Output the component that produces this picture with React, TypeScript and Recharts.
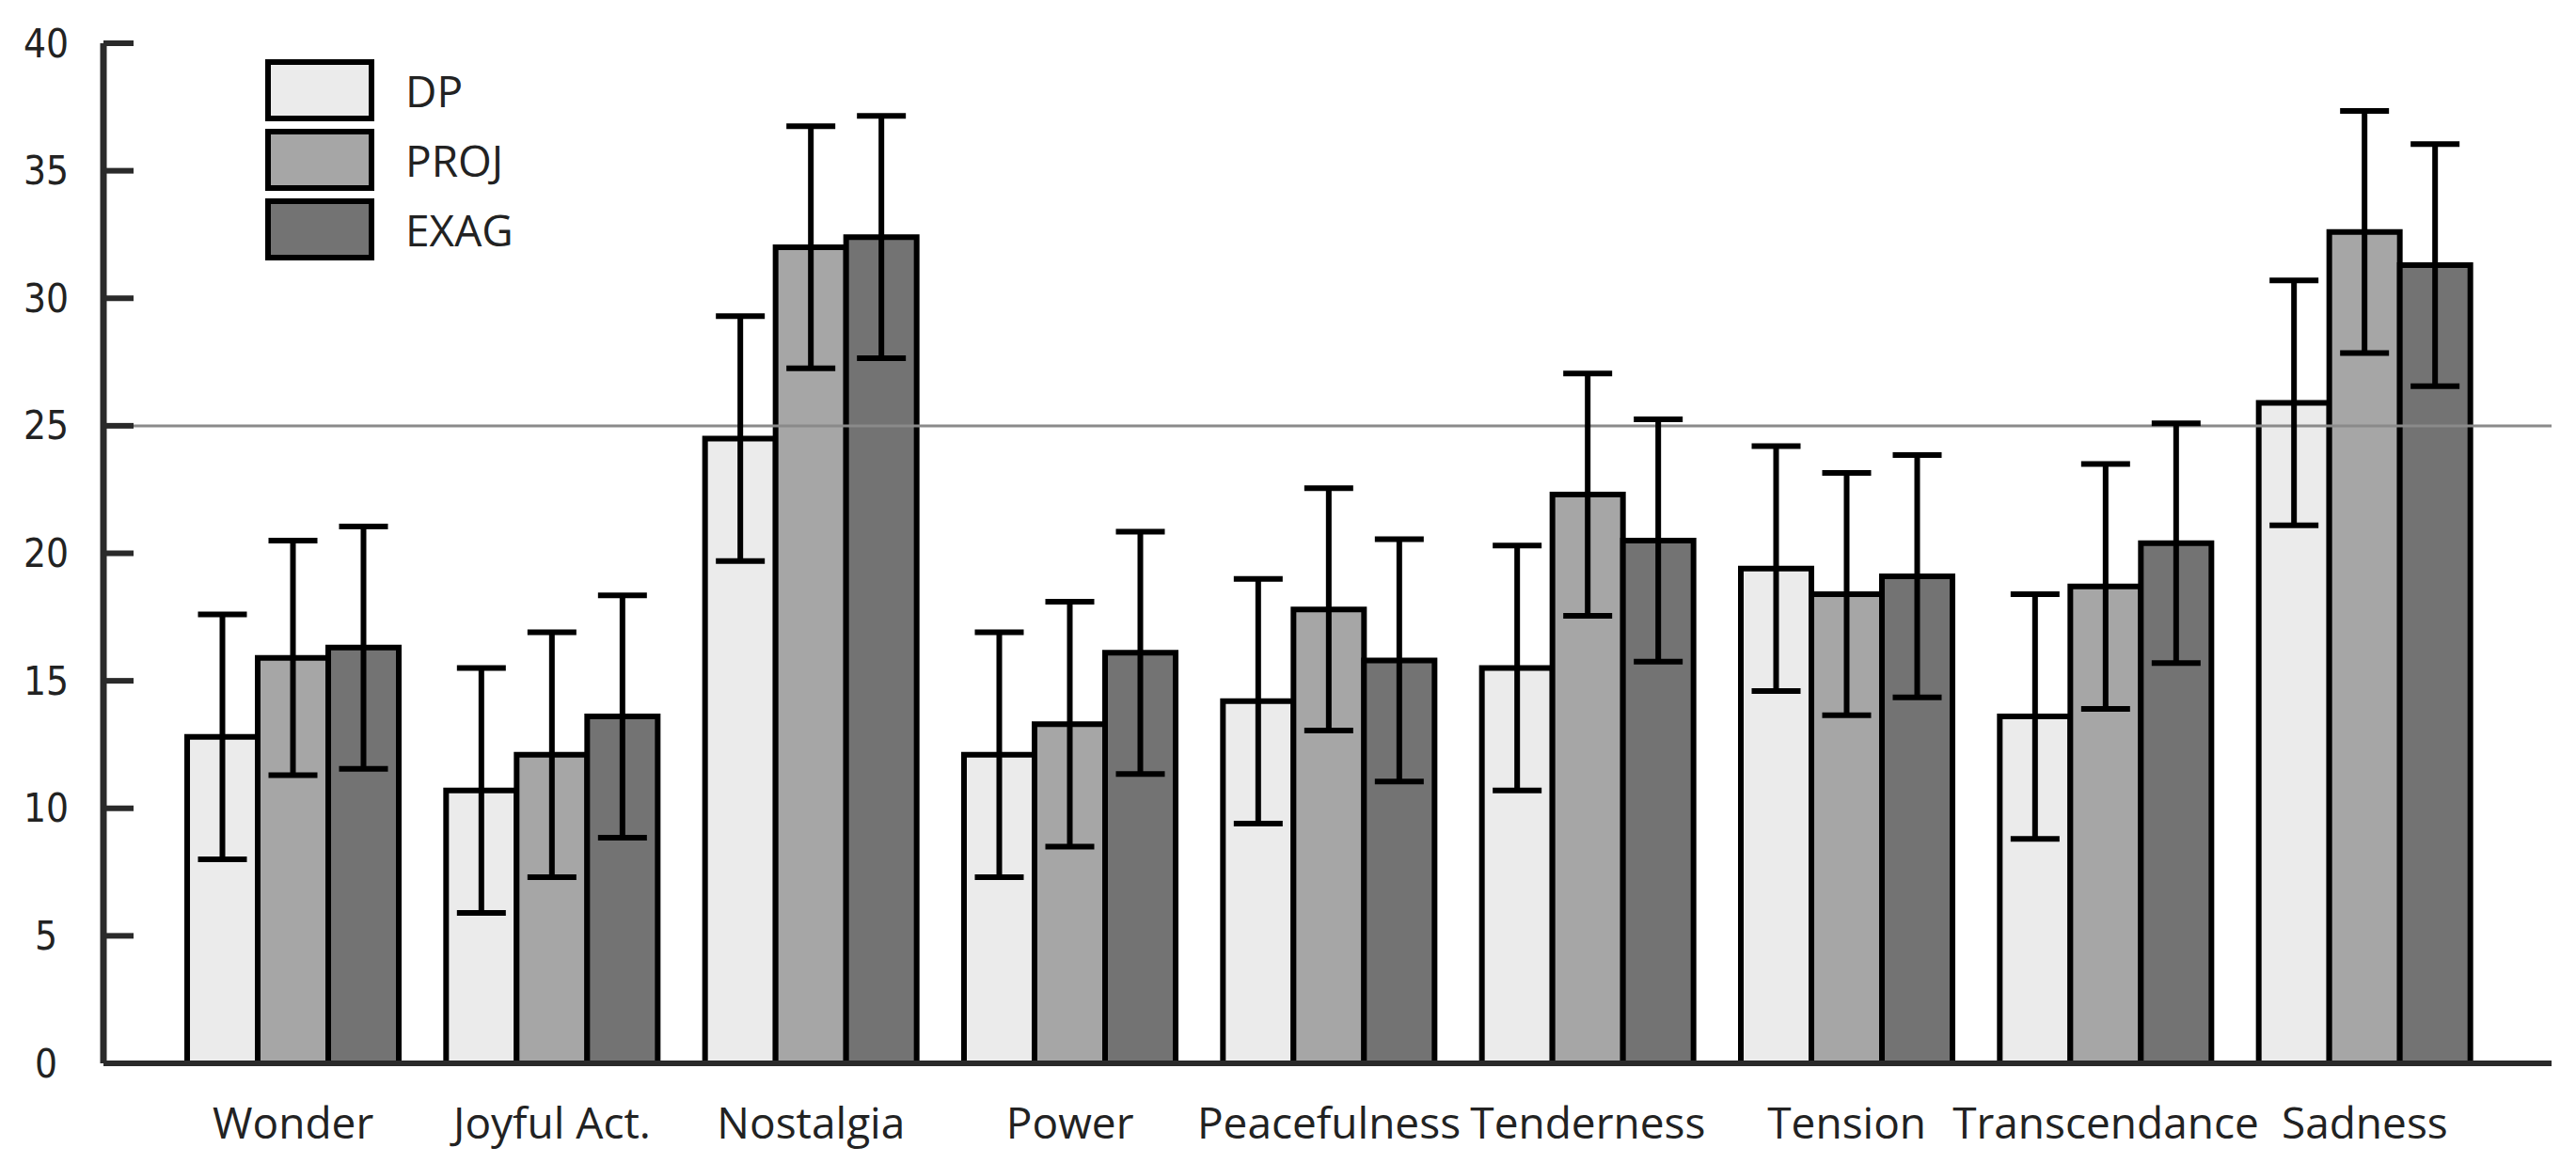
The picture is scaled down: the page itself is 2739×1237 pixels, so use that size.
import React from "react";
import {
  Bar,
  BarChart,
  ErrorBar,
  Legend,
  ReferenceLine,
  XAxis,
  YAxis,
} from "recharts";

const categories = [
  "Wonder",
  "Joyful Act.",
  "Nostalgia",
  "Power",
  "Peacefulness",
  "Tenderness",
  "Tension",
  "Transcendance",
  "Sadness",
];

const seriesNames = ["DP", "PROJ", "EXAG"];

const dpValues = [12.8, 10.7, 24.5, 12.1, 14.2, 15.5, 19.4, 13.6, 25.9];
const projValues = [15.9, 12.1, 32.0, 13.3, 17.8, 22.3, 18.4, 18.7, 32.6];
const exagValues = [16.3, 13.6, 32.4, 16.1, 15.8, 20.5, 19.1, 20.4, 31.3];

const dpErrors = [4.8, 4.8, 4.8, 4.8, 4.8, 4.8, 4.8, 4.8, 4.8];
const projErrors = [4.6, 4.8, 4.75, 4.8, 4.75, 4.75, 4.75, 4.8, 4.75];
const exagErrors = [4.75, 4.75, 4.75, 4.75, 4.75, 4.75, 4.75, 4.7, 4.75];

const yTicks = [0, 5, 10, 15, 20, 25, 30, 35, 40];

const data = categories.map((name, i) => ({
  name,
  DP: dpValues[i],
  PROJ: projValues[i],
  EXAG: exagValues[i],
  dpErr: dpErrors[i],
  projErr: projErrors[i],
  exagErr: exagErrors[i],
}));

const labelFont = "'Open Sans', 'Noto Sans', sans-serif";
const numberFont = "'Liberation Sans Narrow', 'DejaVu Sans Condensed', sans-serif";

function YTick(props: any) {
  const { x, y, payload } = props;
  return (
    <g>
      <line x1={x} x2={x + 32} y1={y} y2={y} stroke="#2a2a2a" strokeWidth={6} />
      <text
        x={x - 61}
        y={y}
        textAnchor="middle"
        dominantBaseline="central"
        fontFamily={numberFont}
        fontSize={42}
        fill="#222"
      >
        {payload.value}
      </text>
    </g>
  );
}

function XTick(props: any) {
  const { x, y, payload } = props;
  return (
    <text
      x={x}
      y={y + 60}
      textAnchor="middle"
      dominantBaseline="central"
      fontFamily={labelFont}
      fontSize={46}
      fill="#222"
    >
      {payload.value}
    </text>
  );
}

function LegendBoxes(props: any) {
  const items = [...(props.payload || [])].sort(
    (a: any, b: any) => seriesNames.indexOf(a.value) - seriesNames.indexOf(b.value)
  );
  return (
    <div style={{ fontFamily: labelFont, fontSize: 46, color: "#222" }}>
      {items.map((entry: any) => (
        <div key={entry.value} style={{ display: "flex", height: 74 }}>
          <div
            style={{
              width: 116,
              height: 66,
              boxSizing: "border-box",
              border: "6px solid #000",
              background: entry.color,
              marginRight: 33,
            }}
          />
          <span style={{ lineHeight: "66px" }}>{entry.value}</span>
        </div>
      ))}
    </div>
  );
}

export default function App() {
  return (
    <div style={{ width: 2739, height: 1237, background: "#fff" }}>
      <style>{"body{margin:0}"}</style>
      <BarChart
        width={2739}
        height={1237}
        data={data}
        margin={{ top: 46, right: 26, bottom: 0, left: 0 }}
        barGap={0}
        barSize={75}
      >
        <ReferenceLine y={25} stroke="#8a8a8a" strokeWidth={3} />
        <XAxis
          dataKey="name"
          height={106}
          padding={{ left: 64, right: 61 }}
          axisLine={{ stroke: "#2a2a2a", strokeWidth: 6 }}
          tickLine={false}
          tickSize={0}
          tick={<XTick />}
          interval={0}
        />
        <YAxis
          width={110}
          domain={[0, 40]}
          ticks={yTicks}
          axisLine={{ stroke: "#2a2a2a", strokeWidth: 7 }}
          tickLine={false}
          tickSize={0}
          tickMargin={0}
          tick={<YTick />}
        />
        <Legend
          verticalAlign="top"
          align="left"
          wrapperStyle={{ top: 63, left: 282, width: 400, height: 0, overflow: "visible" }}
          content={<LegendBoxes />}
        />
        <Bar dataKey="DP" fill="#ebebeb" stroke="#000" strokeWidth={6} isAnimationActive={false}>
          <ErrorBar dataKey="dpErr" width={26} stroke="#000" strokeWidth={6} />
        </Bar>
        <Bar dataKey="PROJ" fill="#a6a6a6" stroke="#000" strokeWidth={6} isAnimationActive={false}>
          <ErrorBar dataKey="projErr" width={26} stroke="#000" strokeWidth={6} />
        </Bar>
        <Bar dataKey="EXAG" fill="#737373" stroke="#000" strokeWidth={6} isAnimationActive={false}>
          <ErrorBar dataKey="exagErr" width={26} stroke="#000" strokeWidth={6} />
        </Bar>
      </BarChart>
    </div>
  );
}
